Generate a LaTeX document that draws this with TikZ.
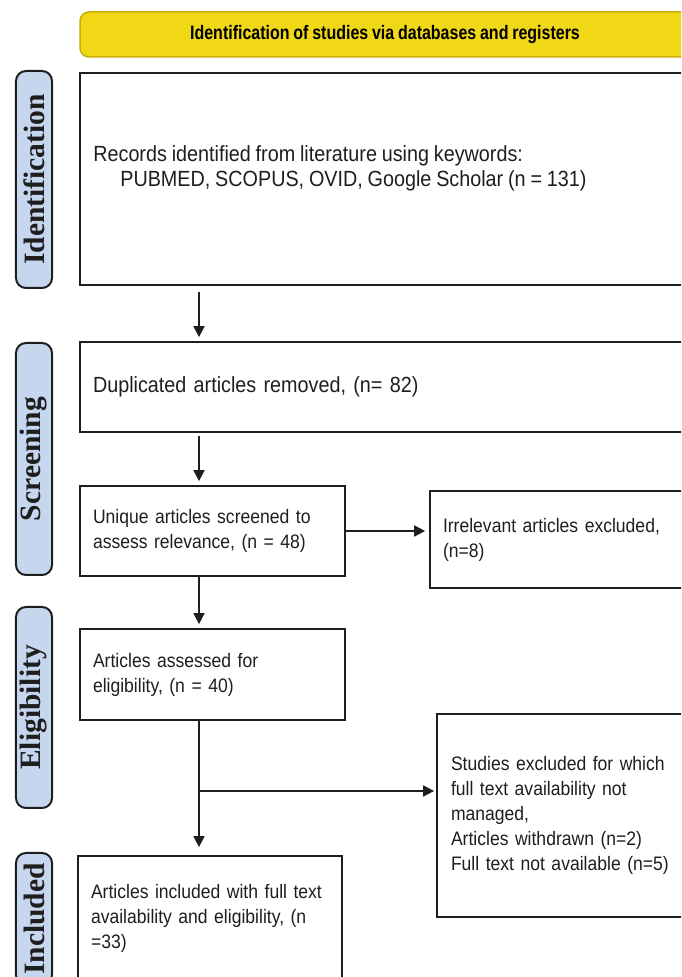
\documentclass[tikz,border=0pt]{standalone}
\usepackage{fontspec}
\setmainfont[FakeStretch=0.90, WordSpace=0.88]{Liberation Sans}
\newfontfamily\headfont[FakeStretch=0.82, WordSpace=0.85]{Liberation Sans}
\newfontfamily\phasefont{Liberation Serif}
\usetikzlibrary{arrows.meta}

\definecolor{headyellow}{HTML}{F0D816}
\definecolor{headedge}{HTML}{C9AE0A}
\definecolor{phaseblue}{HTML}{C6D6EF}
\definecolor{inkgray}{HTML}{1E1E1E}

\tikzset{
  box/.style={draw=inkgray, line width=0.035cm, align=left, inner xsep=0.26cm, inner ysep=0cm},
  bigtext/.style={font=\fontsize{12.5}{14.23}\selectfont},
  smalltext/.style={font=\fontsize{11.1}{14.23}\selectfont},
  phase/.style={draw=inkgray, line width=0.04cm, fill=phaseblue, rounded corners=0.2cm,
    rotate=90, minimum height=0.72cm, inner sep=0cm,
    font=\phasefont\bfseries\fontsize{16.8}{18}\selectfont},
  flow/.style={line width=0.035cm, draw=inkgray, -{Triangle[length=0.22cm,width=0.22cm]},
    shorten >=0.08cm},
}

\begin{document}
\begin{tikzpicture}[text=inkgray]
            \clip (0,0) rectangle (13.620000,19.540000);
            
            % Drawing header bar
            \node [fill=headyellow, draw=headedge, line width=0.03cm, rounded corners=0.18cm,
              minimum width=12.200000cm, minimum height=0.900000cm, text=black,
              font=\headfont\bfseries\fontsize{11.1}{13}\selectfont]
              (head) at (7.700000,18.850000) {Identification of studies via databases and registers};%
            
            % Drawing phase labels
            \node [phase, minimum width=4.340000cm] (idphase) at (0.680000,15.950000) {Identification};%
            \node [phase, minimum width=4.640000cm] (scphase) at (0.680000,10.360000) {Screening};%
            \node [phase, minimum width=4.020000cm] (elphase) at (0.680000,5.390000) {Eligibility};%
            \node [phase, minimum width=2.640000cm] (inphase) at (0.680000,1.160000) {Included};%
            
            % Drawing box records
            \node [box, minimum width=12.400000cm, minimum height=4.240000cm] (rec) at (7.800000,15.960000) {};%
            \node [bigtext, anchor=west, align=left, inner sep=0cm] (rectxt) at (1.860000,16.180000)
              {Records identified from literature using keywords:\\
               \hspace*{0.540000cm}PUBMED, SCOPUS, OVID, Google Scholar (n = 131)};%
            
            % Drawing box duplicates
            \node [box, bigtext, minimum width=12.400000cm, minimum height=1.800000cm, text width=11.880000cm]
              (dup) at (7.800000,11.800000) {Duplicated articles removed, (n= 82)};%
            
            % Drawing box unique
            \node [box, smalltext, minimum width=5.300000cm, minimum height=1.800000cm, text width=4.780000cm]
              (uniq) at (4.250000,8.920000) {Unique articles screened to\\assess relevance, (n = 48)};%
            
            % Drawing box irrelevant
            \node [box, smalltext, minimum width=5.400000cm, minimum height=1.940000cm, text width=4.880000cm]
              (irr) at (11.300000,8.750000) {Irrelevant articles excluded,\\(n=8)};%
            
            % Drawing box assessed
            \node [box, smalltext, minimum width=5.300000cm, minimum height=1.820000cm, text width=4.780000cm]
              (assess) at (4.250000,6.050000) {Articles assessed for\\eligibility, (n = 40)};%
            
            % Drawing box excluded
            \node [box, smalltext, minimum width=5.260000cm, minimum height=4.060000cm, text width=4.700000cm]
              (excl) at (11.370000,3.230000) {Studies excluded for which\\full text availability not\\managed,\\Articles withdrawn (n=2)\\Full text not available (n=5)};%
            
            % Drawing box included
            \node [box, smalltext, minimum width=5.280000cm, minimum height=2.480000cm, text width=4.760000cm]
              (incl) at (4.200000,1.180000) {Articles included with full text\\availability and eligibility, (n\\=33)};%
            
            % Marking spine and branch point
            \coordinate (spine) at (3.980000,0.000000);%
            \coordinate (branch) at (3.980000,3.720000);%
            
            % Drawing arrows
            \draw [flow, shorten <=0.12cm] (rec.south -| spine) -- (dup.north -| spine);%
            \draw [flow, shorten <=0.06cm] (dup.south -| spine) -- (uniq.north -| spine);%
            \draw [flow] (uniq.south -| spine) -- (assess.north -| spine);%
            \draw [flow] (uniq.east) -- (uniq.east -| irr.west);%
            \draw [flow, shorten >=0.16cm] (assess.south -| spine) -- (incl.north -| spine);%
            \draw [flow, shorten >=0.04cm] (branch) -- (branch -| excl.west);%
\end{tikzpicture}
\end{document}
